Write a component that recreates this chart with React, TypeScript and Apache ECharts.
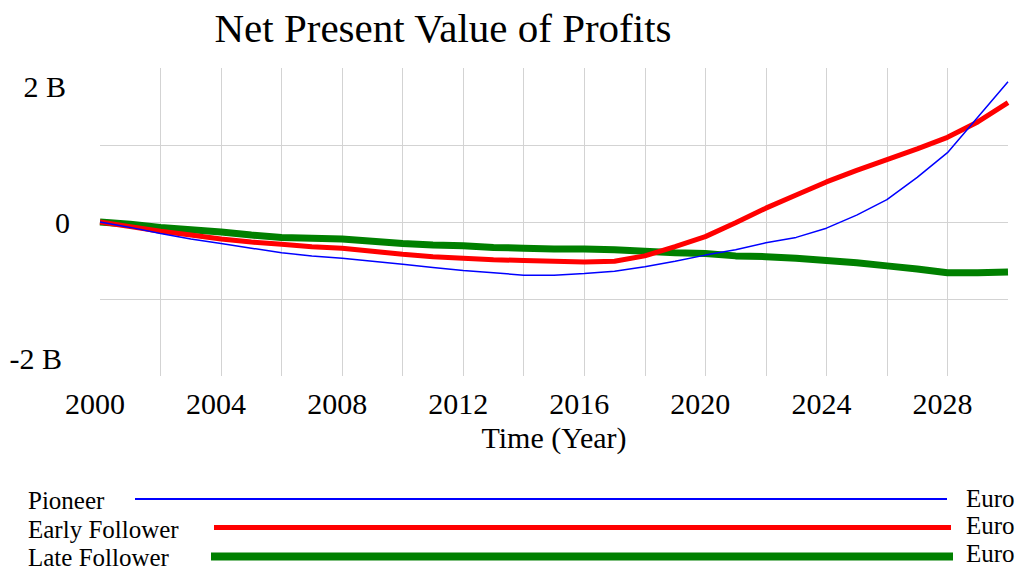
import React, { useEffect, useRef } from "react";
import * as echarts from "echarts";

// Years 2000..2030
const years: number[] = [
  2000, 2001, 2002, 2003, 2004, 2005, 2006, 2007, 2008, 2009, 2010,
  2011, 2012, 2013, 2014, 2015, 2016, 2017, 2018, 2019, 2020,
  2021, 2022, 2023, 2024, 2025, 2026, 2027, 2028, 2029, 2030,
];

// Net present value of profits, billions of Euro
const pioneer: number[] = [
  0, -0.07, -0.15, -0.22, -0.28, -0.34, -0.4, -0.44, -0.47, -0.51, -0.55,
  -0.59, -0.63, -0.66, -0.69, -0.69, -0.67, -0.64, -0.58, -0.51, -0.43,
  -0.36, -0.27, -0.2, -0.08, 0.09, 0.29, 0.58, 0.9, 1.36, 1.82,
];
const earlyFollower: number[] = [
  0, -0.06, -0.12, -0.17, -0.22, -0.26, -0.29, -0.32, -0.34, -0.38, -0.42,
  -0.45, -0.47, -0.49, -0.5, -0.51, -0.52, -0.51, -0.44, -0.32, -0.19,
  -0.01, 0.18, 0.35, 0.52, 0.67, 0.81, 0.95, 1.1, 1.3, 1.55,
];
const lateFollower: number[] = [
  0, -0.03, -0.07, -0.1, -0.13, -0.17, -0.2, -0.21, -0.22, -0.25, -0.28,
  -0.3, -0.31, -0.33, -0.34, -0.35, -0.35, -0.36, -0.38, -0.4, -0.41,
  -0.44, -0.45, -0.47, -0.5, -0.53, -0.57, -0.61, -0.66, -0.66, -0.65,
];

const seriesNames: string[] = ["Pioneer", "Early Follower", "Late Follower"];
const unitLabel = "Euro";
const yTickLabels: string[] = ["2 B", "0", "-2 B"];

const FONT = "'Liberation Serif', 'Times New Roman', serif";

export default function App() {
  const ref = useRef<HTMLDivElement>(null);

  useEffect(() => {
    if (!ref.current) return;
    const chart = echarts.init(ref.current, undefined, { renderer: "svg" });
    const pairs = (vals: number[]) => years.map((y, i) => [y, vals[i]]);

    const legendText = (text: string, x: number, y: number, align: string) => ({
      type: "text",
      x,
      y,
      style: {
        text,
        fill: "#000",
        font: `25px ${FONT}`,
        textAlign: align,
        textVerticalAlign: "middle",
      },
    });
    const legendLine = (x1: number, x2: number, y: number, color: string, w: number) => ({
      type: "line",
      shape: { x1, y1: y, x2, y2: y },
      style: { stroke: color, lineWidth: w },
    });
    const yLabel = (text: string, x: number, y: number) => ({
      type: "text",
      x,
      y,
      style: {
        text,
        fill: "#000",
        font: `30px ${FONT}`,
        textAlign: "right",
        textVerticalAlign: "middle",
      },
    });

    chart.setOption({
      animation: false,
      backgroundColor: "#fff",
      textStyle: { fontFamily: FONT },
      grid: { left: 100, right: 10, top: 68, bottom: 196, containLabel: false },
      xAxis: {
        type: "value",
        min: 2000,
        max: 2030,
        interval: 2,
        name: "Time (Year)",
        nameLocation: "middle",
        nameGap: 46,
        nameTextStyle: { fontSize: 30, color: "#000", fontFamily: FONT },
        axisLine: { show: false },
        axisTick: { show: false },
        axisLabel: {
          fontSize: 30,
          color: "#000",
          fontFamily: FONT,
          margin: 12,
          padding: [0, 10, 0, 0],
          formatter: (v: number) => (v % 4 === 0 ? String(v) : ""),
        },
        splitLine: {
          show: true,
          showMinLine: false,
          showMaxLine: false,
          lineStyle: { color: "#d3d3d3", width: 1 },
        },
      },
      yAxis: {
        type: "value",
        min: -2,
        max: 2,
        interval: 1,
        axisLine: { show: false },
        axisTick: { show: false },
        axisLabel: { show: false },
        splitLine: {
          show: true,
          showMinLine: false,
          showMaxLine: false,
          lineStyle: { color: "#d3d3d3", width: 1 },
        },
      },
      series: [
        {
          name: seriesNames[2],
          type: "line",
          data: pairs(lateFollower),
          showSymbol: false,
          lineStyle: { color: "#008000", width: 7 },
          itemStyle: { color: "#008000" },
          z: 1,
        },
        {
          name: seriesNames[1],
          type: "line",
          data: pairs(earlyFollower),
          showSymbol: false,
          lineStyle: { color: "#ff0000", width: 5 },
          itemStyle: { color: "#ff0000" },
          z: 2,
        },
        {
          name: seriesNames[0],
          type: "line",
          data: pairs(pioneer),
          showSymbol: false,
          lineStyle: { color: "#0000ff", width: 1.5 },
          itemStyle: { color: "#0000ff" },
          z: 3,
        },
      ],
      graphic: [
        {
          type: "text",
          x: 443,
          y: 28,
          style: {
            text: "Net Present Value of Profits",
            fill: "#000",
            font: `41px ${FONT}`,
            textAlign: "center",
            textVerticalAlign: "middle",
          },
        },
        yLabel(yTickLabels[0], 66, 86),
        yLabel(yTickLabels[1], 70, 222),
        yLabel(yTickLabels[2], 62, 358),
        legendText(seriesNames[0], 28, 500),
        legendText(seriesNames[1], 28, 529),
        legendText(seriesNames[2], 28, 557),
        legendLine(135, 947, 499, "#0000ff", 2),
        legendLine(214, 951, 527.5, "#ff0000", 5),
        legendLine(211, 953, 556.5, "#008000", 8),
        legendText(unitLabel, 966, 498, "left"),
        legendText(unitLabel, 966, 525, "left"),
        legendText(unitLabel, 966, 553, "left"),
      ],
    });

    return () => chart.dispose();
  }, []);

  return (
    <div
      ref={ref}
      style={{ position: "fixed", left: 0, top: 0, width: 1018, height: 572 }}
    />
  );
}
